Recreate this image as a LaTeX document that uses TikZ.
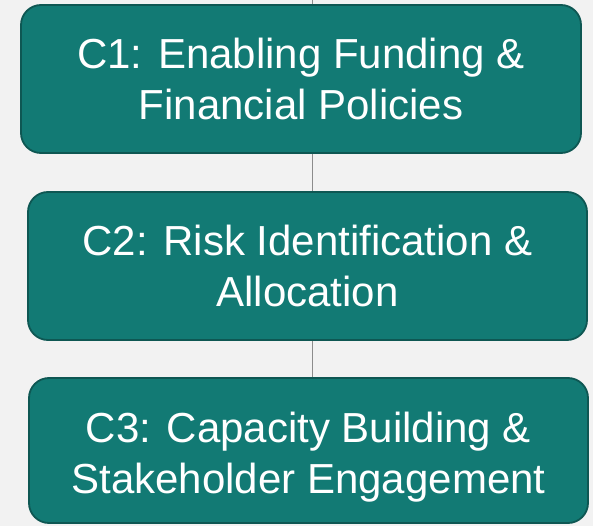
\documentclass[tikz,border=0pt]{standalone}
\usepackage{fontspec}
\setmainfont{Liberation Sans}
\definecolor{bg}{HTML}{F2F2F2}
\definecolor{tealfill}{HTML}{127A74}
\definecolor{tealedge}{HTML}{0E5753}
\definecolor{spine}{HTML}{8C8C8C}
\tikzset{
  stagebox/.style={draw=tealedge, line width=1.8pt, fill=tealfill, rounded corners=20pt,
    text=white, align=center, inner sep=0pt,
    font=\fontsize{42}{51}\selectfont},
  spineline/.style={draw=spine, line width=1pt}
}
\begin{document}
\begin{tikzpicture}[x=1pt,y=-1pt]
  % canvas
  \fill[bg] (0,0) rectangle (593,526);
  \useasboundingbox (0,0) rectangle (593,526);
  \coordinate (top) at (312,0);
  % stages
  \node[stagebox, minimum width=560pt, minimum height=148pt] (c1) at (301,79)
    {C1: Enabling Funding \&\\Financial Policies};
  \node[stagebox, minimum width=559pt, minimum height=148pt] (c2) at (307.5,266)
    {C2: Risk Identification \&\\Allocation};
  \node[stagebox, minimum width=559pt, minimum height=145pt] (c3) at (308.5,450.5)
    {\rule{0pt}{43pt}C3: Capacity Building \&\\Stakeholder Engagement};
  % connecting spine
  \draw[spineline] (top) -- (top |- c1.north);
  \draw[spineline] (top |- c1.south) -- (top |- c2.north);
  \draw[spineline] (top |- c2.south) -- (top |- c3.north);
\end{tikzpicture}
\end{document}
